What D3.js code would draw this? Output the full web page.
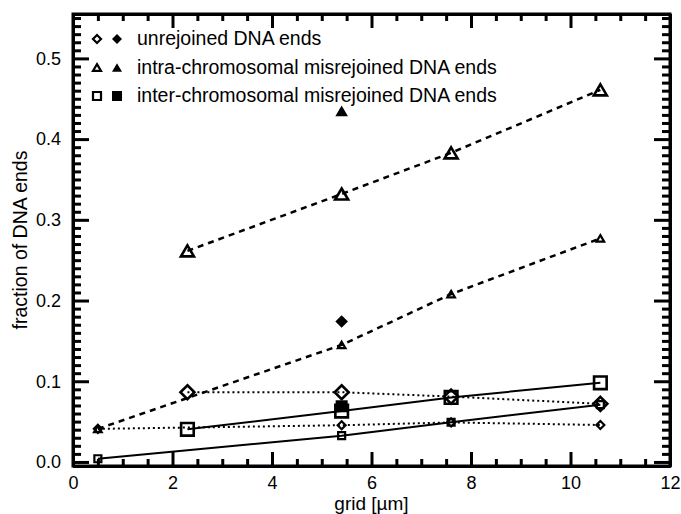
<!DOCTYPE html>
<html>
<head>
<meta charset="utf-8">
<script src="https://cdn.jsdelivr.net/npm/d3@7"></script>
<style>
  html, body { margin: 0; padding: 0; background: #fff; }
  svg { display: block; }
  text { font-family: "Liberation Sans", Arial, Helvetica, sans-serif; fill: #000; }
</style>
</head>
<body>
<svg id="chart" width="681" height="514"></svg>
<script>
// Grid spacings (µm) for the two sets of simulations
const gridLarge = [2.3, 5.4, 7.6, 10.6];
const gridSmall = [0.5, 5.4, 7.6, 10.6];

// Fraction of DNA ends, large-symbol runs
const unrejoinedLarge = [0.0864, 0.0864, 0.081, 0.072];
const intraLarge      = [0.2615, 0.332, 0.383, 0.461];
const interLarge      = [0.0405, 0.063, 0.080, 0.098];

// Fraction of DNA ends, small-symbol runs
const unrejoinedSmall = [0.041, 0.0455, 0.049, 0.0458];
const intraSmall      = [0.041, 0.145, 0.208, 0.277];
const interSmall      = [0.004, 0.0326, 0.0492, 0.071];

// Single filled reference points
const filledGrid = 5.4;
const unrejoinedFilled = 0.174;
const intraFilled      = 0.435;
const interFilled      = 0.069;

// Legend entries
const legendLabels = [
  "unrejoined DNA ends",
  "intra-chromosomal misrejoined DNA ends",
  "inter-chromosomal misrejoined DNA ends"
];
const legendShapes = ["diamond", "triangle", "square"];

// Axis ticks
const xMajorTicks = [0, 2, 4, 6, 8, 10, 12];
const yMajorTicks = [0.0, 0.1, 0.2, 0.3, 0.4, 0.5];
const xLabel = "grid [µm]";
const yLabel = "fraction of DNA ends";

const svg = d3.select("#chart");
const plotLeft = 73, plotRight = 670, plotTop = 14, plotBottom = 466;

const x = d3.scaleLinear().domain([0, 12]).range([plotLeft, plotRight]);
const y = d3.scaleLinear().domain([-0.005, 0.555]).range([plotBottom, plotTop]);

const FONT = 19.5;       // legend and axis titles
const TICK_FONT = 18;    // tick labels

// ---- axes (ticks point inward, box on all four sides) ----
const xMinor = d3.range(0, 12.001, 0.5).filter(v => Math.abs(v / 2 - Math.round(v / 2)) > 1e-6);
const yMinor = d3.range(0, 0.555, 0.01).filter(v => Math.abs(v * 10 - Math.round(v * 10)) > 1e-6);

function styleAxis(g) {
  g.selectAll("path.domain").attr("stroke", "#000").attr("stroke-width", 3);
  g.selectAll(".tick line").attr("stroke", "#000").attr("stroke-width", 3);
  g.selectAll(".tick text").attr("font-size", TICK_FONT).attr("fill", "#000");
  g.attr("font-family", null).attr("font-size", null);
}

// bottom
svg.append("g").attr("transform", `translate(0,${plotBottom})`)
  .call(d3.axisBottom(x).tickValues(xMinor).tickSize(-7).tickSizeOuter(0).tickFormat(""))
  .call(styleAxis);
svg.append("g").attr("transform", `translate(0,${plotBottom})`)
  .call(d3.axisBottom(x).tickValues(xMajorTicks).tickSize(-14).tickSizeOuter(0)
    .tickPadding(10).tickFormat(d3.format("d")))
  .call(styleAxis);
// top
svg.append("g").attr("transform", `translate(0,${plotTop})`)
  .call(d3.axisTop(x).tickValues(xMinor).tickSize(-7).tickSizeOuter(0).tickFormat(""))
  .call(styleAxis);
svg.append("g").attr("transform", `translate(0,${plotTop})`)
  .call(d3.axisTop(x).tickValues(xMajorTicks).tickSize(-14).tickSizeOuter(0).tickFormat(""))
  .call(styleAxis);
// left
svg.append("g").attr("transform", `translate(${plotLeft},0)`)
  .call(d3.axisLeft(y).tickValues(yMinor).tickSize(-8).tickSizeOuter(0).tickFormat(""))
  .call(styleAxis);
svg.append("g").attr("transform", `translate(${plotLeft},0)`)
  .call(d3.axisLeft(y).tickValues(yMajorTicks).tickSize(-16).tickSizeOuter(0)
    .tickPadding(12).tickFormat(d3.format(".1f")))
  .call(styleAxis);
// right
svg.append("g").attr("transform", `translate(${plotRight},0)`)
  .call(d3.axisRight(y).tickValues(yMinor).tickSize(-8).tickSizeOuter(0).tickFormat(""))
  .call(styleAxis);
svg.append("g").attr("transform", `translate(${plotRight},0)`)
  .call(d3.axisRight(y).tickValues(yMajorTicks).tickSize(-16).tickSizeOuter(0).tickFormat(""))
  .call(styleAxis);

// square corners of the frame
svg.append("rect")
  .attr("x", plotLeft).attr("y", plotTop)
  .attr("width", plotRight - plotLeft).attr("height", plotBottom - plotTop)
  .attr("fill", "none").attr("stroke", "#000").attr("stroke-width", 3);

// axis titles
svg.append("text")
  .attr("x", (plotLeft + plotRight) / 2).attr("y", 509.5)
  .attr("text-anchor", "middle").attr("font-size", 19)
  .text(xLabel);
svg.append("text")
  .attr("transform", `translate(27,${(plotTop + plotBottom) / 2}) rotate(-90)`)
  .attr("text-anchor", "middle").attr("font-size", FONT)
  .text(yLabel);

// ---- marker shapes ----
function markerPath(shape, r) {
  if (shape === "diamond") {
    return `M0,${-r}L${r},0L0,${r}L${-r},0Z`;
  }
  if (shape === "triangle") {
    const h = r * 1.7;
    return `M0,${-h / 2}L${r},${h / 2}L${-r},${h / 2}Z`;
  }
  return `M${-r},${-r}L${r},${-r}L${r},${r}L${-r},${r}Z`;
}

const line = d3.line().x(d => x(d[0])).y(d => y(d[1]));

const dashStyles = { dotted: "2,3", dashed: "6,5", solid: null };

const seriesList = [
  { xs: gridLarge, ys: unrejoinedLarge, shape: "diamond",  r: 7,   style: "dotted" },
  { xs: gridSmall, ys: unrejoinedSmall, shape: "diamond",  r: 4,   style: "dotted" },
  { xs: gridLarge, ys: intraLarge,      shape: "triangle", r: 6.5, style: "dashed" },
  { xs: gridSmall, ys: intraSmall,      shape: "triangle", r: 3.8, style: "dashed" },
  { xs: gridLarge, ys: interLarge,      shape: "square",   r: 6.3, style: "solid" },
  { xs: gridSmall, ys: interSmall,      shape: "square",   r: 3.5, style: "solid" }
];

const plot = svg.append("g");

seriesList.forEach(s => {
  const pts = s.xs.map((v, i) => [v, s.ys[i]]);
  plot.append("path")
    .attr("d", line(pts))
    .attr("fill", "none")
    .attr("stroke", "#000")
    .attr("stroke-width", s.style === "dashed" ? 2.5 : 2)
    .attr("stroke-dasharray", dashStyles[s.style]);
});

seriesList.forEach(s => {
  plot.selectAll(null)
    .data(s.xs.map((v, i) => [v, s.ys[i]]))
    .join("path")
    .attr("transform", d => `translate(${x(d[0])},${y(d[1])})`)
    .attr("d", markerPath(s.shape, s.r))
    .attr("fill", "none")
    .attr("stroke", "#000")
    .attr("stroke-width", s.r > 5 ? 2.6 : 2.2)
    .attr("stroke-linejoin", "miter");
});

// filled points
[
  { v: unrejoinedFilled, shape: "diamond",  r: 6.3 },
  { v: intraFilled,      shape: "triangle", r: 6.3 },
  { v: interFilled,      shape: "square",   r: 6 }
].forEach(p => {
  plot.append("path")
    .attr("transform", `translate(${x(filledGrid)},${y(p.v)})`)
    .attr("d", markerPath(p.shape, p.r))
    .attr("fill", "#000");
});

// ---- legend ----
const legend = svg.append("g");
legendLabels.forEach((label, i) => {
  const cy = 39 + i * 28.5;
  const shape = legendShapes[i];
  legend.append("path")
    .attr("transform", `translate(97,${cy})`)
    .attr("d", markerPath(shape, 4))
    .attr("fill", "none").attr("stroke", "#000").attr("stroke-width", 2.2);
  legend.append("path")
    .attr("transform", `translate(117,${cy})`)
    .attr("d", markerPath(shape, 5))
    .attr("fill", "#000");
  legend.append("text")
    .attr("x", 137).attr("y", cy + 6)
    .attr("font-size", FONT)
    .text(label);
});
</script>
</body>
</html>
